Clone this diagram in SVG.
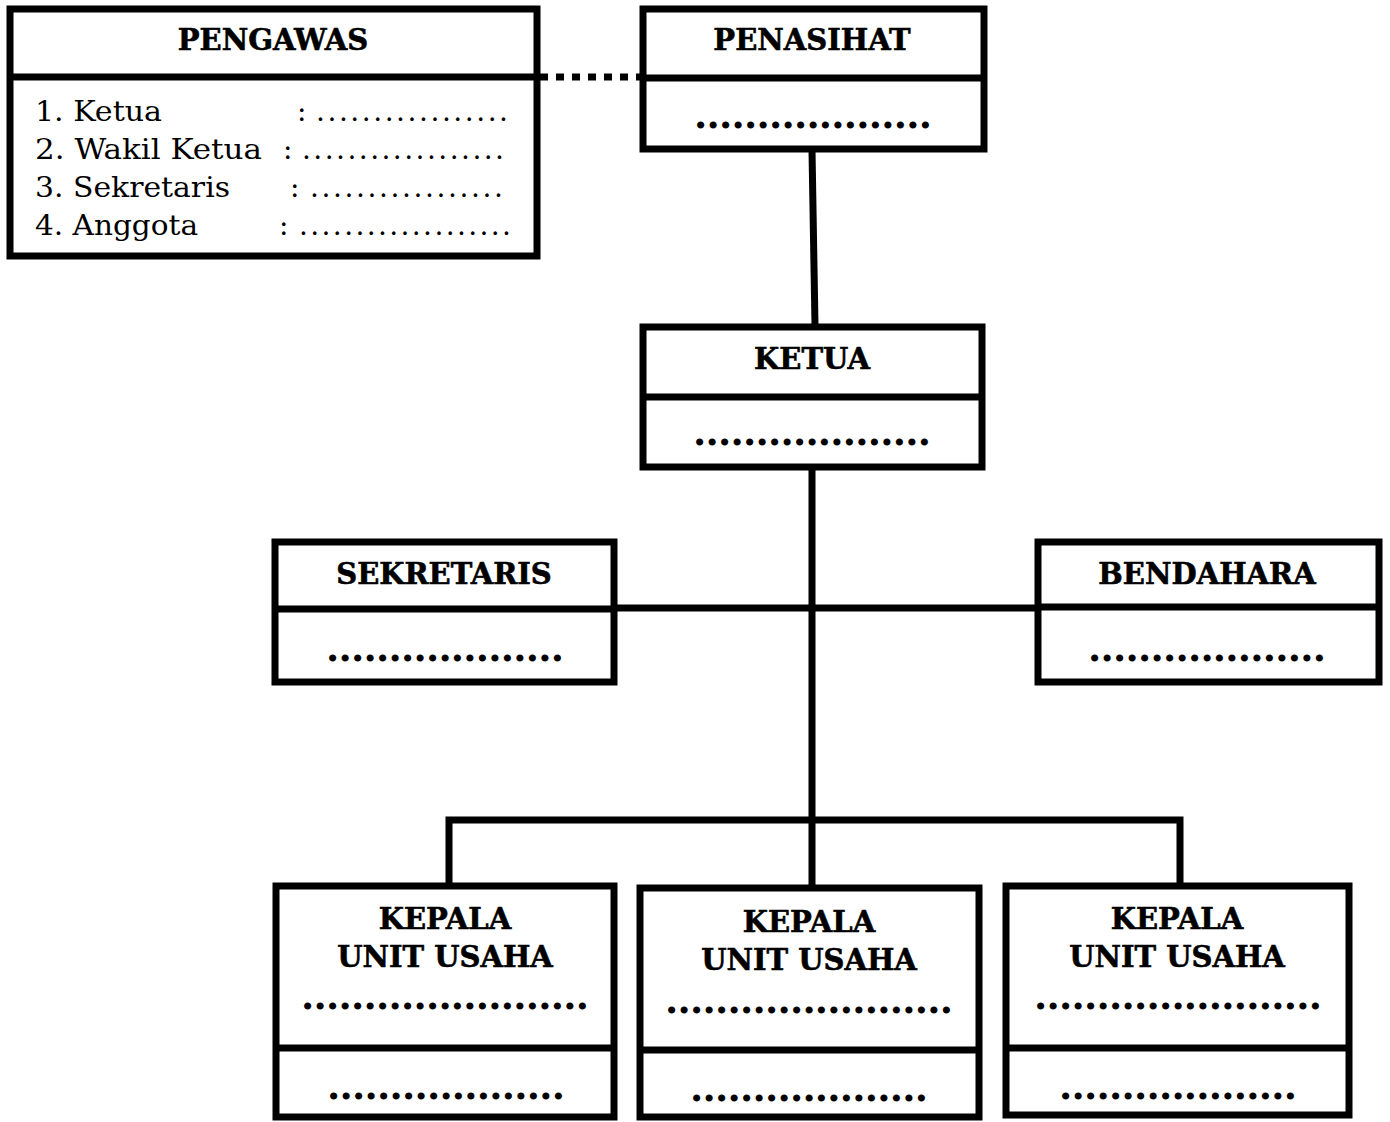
<svg xmlns="http://www.w3.org/2000/svg" width="1390" height="1122" viewBox="0 0 1390 1122">
<style>
.box{fill:#fff;stroke:#000;stroke-width:7}
.ln{stroke:#000;stroke-width:7;fill:none}
.h{font-family:"DejaVu Serif","Liberation Serif",serif;font-weight:bold;font-size:29px;text-anchor:middle;fill:#000;stroke:#000;stroke-width:0.6}
.d{font-family:"DejaVu Serif","Liberation Serif",serif;font-weight:bold;font-size:38px;fill:#000}
.r{font-family:"DejaVu Serif","Liberation Serif",serif;font-size:28px;fill:#000}
</style>
<rect width="1390" height="1122" fill="#fff"/>
<g id="connectors">
<line class="ln" x1="540" y1="77" x2="640" y2="77" stroke-dasharray="8,8" stroke-width="8"/>
<line class="ln" x1="812" y1="150" x2="815" y2="325"/>
<line class="ln" x1="812" y1="468" x2="812" y2="887"/>
<line class="ln" x1="615" y1="608" x2="1037" y2="608"/>
<polyline class="ln" points="449,886 449,820 1180,820 1180,886"/>
</g>
<g id="pengawas">
<rect class="box" x="10" y="9" width="527" height="247"/>
<line class="ln" x1="10" y1="77" x2="537" y2="77"/>
<text class="h" x="273" y="50">PENGAWAS</text>
<text class="r" x="35" y="121" textLength="127" lengthAdjust="spacingAndGlyphs">1. Ketua</text>
<text class="r" x="297" y="121">:</text>
<text class="r" x="316" y="121" textLength="192" lengthAdjust="spacing">.................</text>
<text class="r" x="35" y="159" textLength="227" lengthAdjust="spacingAndGlyphs">2. Wakil Ketua</text>
<text class="r" x="283" y="159">:</text>
<text class="r" x="302" y="159" textLength="202" lengthAdjust="spacing">..................</text>
<text class="r" x="35" y="197" textLength="195" lengthAdjust="spacingAndGlyphs">3. Sekretaris</text>
<text class="r" x="290" y="197">:</text>
<text class="r" x="310" y="197" textLength="193" lengthAdjust="spacing">.................</text>
<text class="r" x="35" y="235" textLength="163" lengthAdjust="spacingAndGlyphs">4. Anggota</text>
<text class="r" x="279" y="235">:</text>
<text class="r" x="299" y="235" textLength="212" lengthAdjust="spacing">...................</text>
</g>
<g id="penasihat">
<rect class="box" x="643" y="9" width="341" height="140"/>
<line class="ln" x1="643" y1="78" x2="984" y2="78"/>
<text class="h" x="812" y="50">PENASIHAT</text>
<text class="d" x="694" y="128" textLength="238" lengthAdjust="spacing">...................</text>
</g>
<g id="ketua">
<rect class="box" x="643" y="327" width="339" height="140"/>
<line class="ln" x1="643" y1="397" x2="982" y2="397"/>
<text class="h" x="812" y="369">KETUA</text>
<text class="d" x="693" y="445" textLength="238" lengthAdjust="spacing">...................</text>
</g>
<g id="sekretaris">
<rect class="box" x="275" y="542" width="339" height="140"/>
<line class="ln" x1="275" y1="609" x2="614" y2="609"/>
<text class="h" x="444" y="584">SEKRETARIS</text>
<text class="d" x="326" y="661" textLength="238" lengthAdjust="spacing">...................</text>
</g>
<g id="bendahara">
<rect class="box" x="1038" y="542" width="341" height="140"/>
<line class="ln" x1="1038" y1="607" x2="1379" y2="607"/>
<text class="h" x="1207" y="584">BENDAHARA</text>
<text class="d" x="1088" y="661" textLength="238" lengthAdjust="spacing">...................</text>
</g>
<g id="kepala1">
<rect class="box" x="276" y="886" width="338" height="231"/>
<line class="ln" x1="276" y1="1048" x2="614" y2="1048"/>
<text class="h" x="445" y="929">KEPALA</text>
<text class="h" x="445" y="967">UNIT USAHA</text>
<text class="d" x="301" y="1009" textLength="288" lengthAdjust="spacing">.......................</text>
<text class="d" x="327" y="1099" textLength="238" lengthAdjust="spacing">...................</text>
</g>
<g id="kepala2">
<rect class="box" x="640" y="888" width="339" height="229"/>
<line class="ln" x1="640" y1="1050" x2="979" y2="1050"/>
<text class="h" x="809" y="932">KEPALA</text>
<text class="h" x="809" y="970">UNIT USAHA</text>
<text class="d" x="665" y="1013" textLength="288" lengthAdjust="spacing">.......................</text>
<text class="d" x="690" y="1101" textLength="238" lengthAdjust="spacing">...................</text>
</g>
<g id="kepala3">
<rect class="box" x="1006" y="886" width="343" height="229"/>
<line class="ln" x1="1006" y1="1048" x2="1349" y2="1048"/>
<text class="h" x="1177" y="929">KEPALA</text>
<text class="h" x="1177" y="967">UNIT USAHA</text>
<text class="d" x="1034" y="1009" textLength="288" lengthAdjust="spacing">.......................</text>
<text class="d" x="1059" y="1099" textLength="238" lengthAdjust="spacing">...................</text>
</g>
</svg>
